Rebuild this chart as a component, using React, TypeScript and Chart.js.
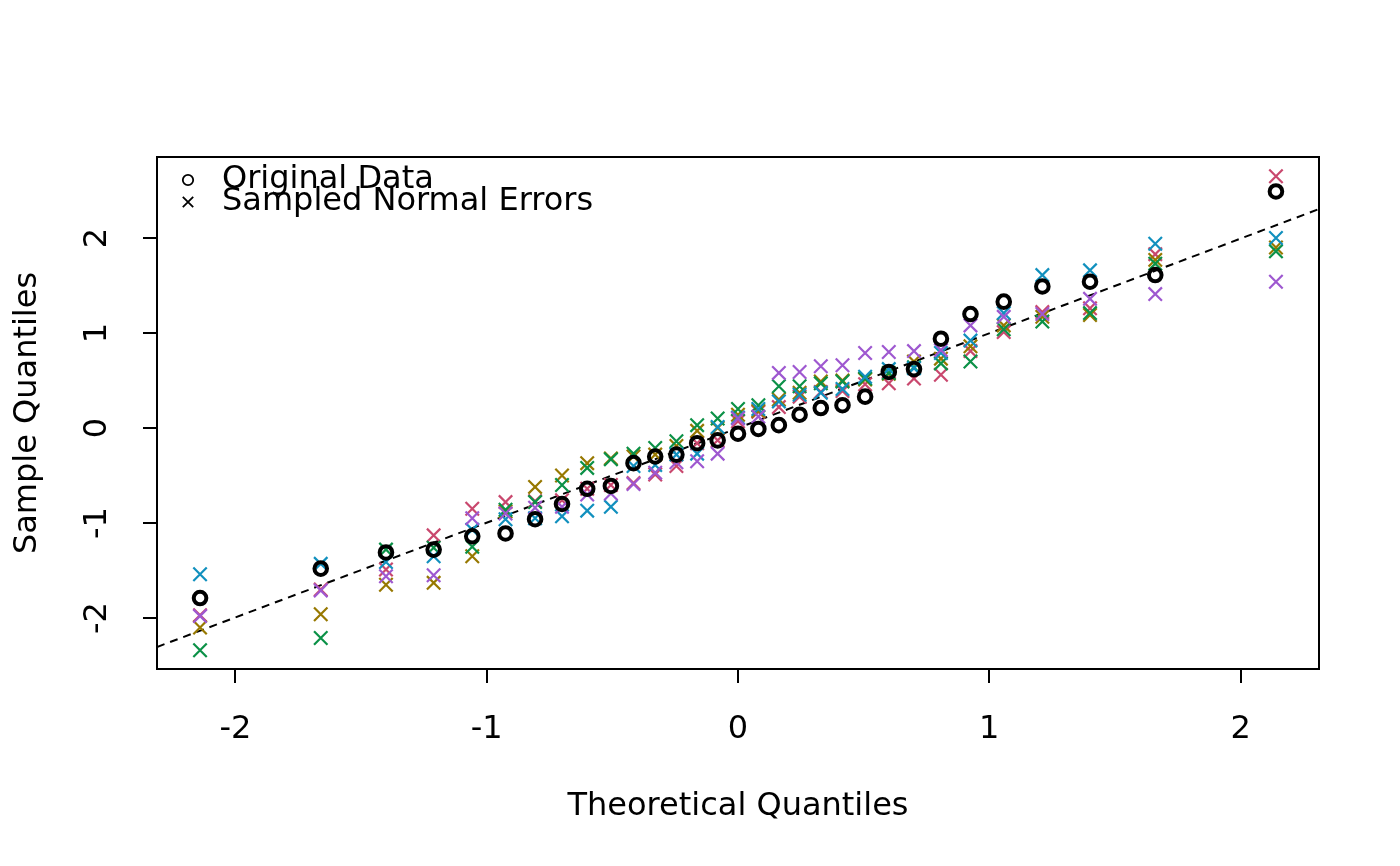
import React, { useEffect, useRef } from "react";
import { Chart, registerables } from "chart.js";

Chart.register(...registerables);

// Theoretical normal quantiles for n = 31
const theoreticalQuantiles = [
  -2.1407, -1.6604, -1.4008, -1.2111, -1.0575, -0.9251, -0.8075, -0.7003, -0.6001, -0.5058,
  -0.4158, -0.3295, -0.2451, -0.1626, -0.081, 0, 0.081, 0.1626, 0.2451, 0.3295,
  0.4158, 0.5058, 0.6001, 0.7003, 0.8075, 0.9251, 1.0575, 1.2111, 1.4008, 1.6604, 2.1407,
];

const originalData = [
  -1.79, -1.48, -1.31, -1.28, -1.14, -1.11, -0.96, -0.8, -0.64, -0.61,
  -0.37, -0.3, -0.28, -0.16, -0.13, -0.06, -0.01, 0.03, 0.14, 0.21,
  0.24, 0.33, 0.59, 0.62, 0.94, 1.2, 1.33, 1.49, 1.54, 1.61, 2.49,
];

const sampleRed = [
  -1.97, -1.7, -1.49, -1.13, -0.85, -0.78, -0.77, -0.76, -0.64, -0.6,
  -0.58, -0.49, -0.4, -0.16, -0.13, 0.07, 0.17, 0.22, 0.33, 0.38,
  0.39, 0.46, 0.47, 0.52, 0.56, 0.81, 1.01, 1.22, 1.26, 1.83, 2.65,
];

const sampleOlive = [
  -2.1, -1.96, -1.65, -1.63, -1.35, -0.88, -0.62, -0.5, -0.37, -0.32,
  -0.3, -0.28, -0.19, -0.03, 0.0, 0.14, 0.18, 0.3, 0.37, 0.49,
  0.5, 0.51, 0.57, 0.7, 0.73, 0.86, 1.08, 1.17, 1.19, 1.77, 1.9,
];

const sampleGreen = [
  -2.34, -2.21, -1.28, -1.26, -1.25, -0.86, -0.78, -0.6, -0.42, -0.33,
  -0.27, -0.21, -0.14, 0.03, 0.1, 0.2, 0.24, 0.44, 0.44, 0.47,
  0.49, 0.52, 0.58, 0.64, 0.68, 0.7, 1.04, 1.12, 1.21, 1.73, 1.86,
];

const sampleTeal = [
  -1.54, -1.43, -1.41, -1.35, -1.07, -0.96, -0.95, -0.93, -0.87, -0.83,
  -0.4, -0.39, -0.28, -0.27, 0.01, 0.11, 0.2, 0.28, 0.35, 0.37,
  0.41, 0.54, 0.62, 0.63, 0.79, 0.92, 1.21, 1.61, 1.66, 1.94, 2.0,
];

const samplePurple = [
  -1.98, -1.71, -1.56, -1.55, -0.95, -0.9, -0.84, -0.83, -0.7, -0.69,
  -0.59, -0.47, -0.36, -0.35, -0.27, 0.1, 0.12, 0.58, 0.59, 0.65,
  0.66, 0.79, 0.8, 0.81, 0.82, 1.08, 1.17, 1.2, 1.36, 1.41, 1.54,
];

const qqLineX = [-2.312, 2.312];
const qqLineY = [-2.305, 2.305];

const xTicks = [-2, -1, 0, 1, 2];
const yTicks = [-2, -1, 0, 1, 2];
const xRange = [-2.312, 2.312];
const yRange = [-2.537, 2.853];

const legendLabels = ["Original Data", "Sampled Normal Errors"];
const xTitle = "Theoretical Quantiles";
const yTitle = "Sample Quantiles";

const FONT_FAMILY = "'DejaVu Sans', 'Noto Sans', sans-serif";
const FONT_SIZE = 32;

const toPoints = (ys: number[]) => ys.map((y, i) => ({ x: theoreticalQuantiles[i], y }));

const framePlugin = {
  id: "rFrame",
  afterDraw(chart: any) {
    const { ctx, chartArea: a } = chart;
    ctx.save();
    ctx.strokeStyle = "#000";
    ctx.lineWidth = 2;
    ctx.strokeRect(a.left, a.top, a.right - a.left, a.bottom - a.top);

    // legend (R style, inside top-left)
    const sx = a.left + 31;
    const y1 = a.top + 23;
    const y2 = a.top + 45;
    ctx.lineWidth = 1.8;
    ctx.beginPath();
    ctx.arc(sx, y1, 5.2, 0, Math.PI * 2);
    ctx.stroke();
    const h = 5.2;
    ctx.beginPath();
    ctx.moveTo(sx - h, y2 - h);
    ctx.lineTo(sx + h, y2 + h);
    ctx.moveTo(sx - h, y2 + h);
    ctx.lineTo(sx + h, y2 - h);
    ctx.stroke();
    ctx.fillStyle = "#000";
    ctx.font = `${FONT_SIZE}px ${FONT_FAMILY}`;
    ctx.textAlign = "left";
    ctx.textBaseline = "middle";
    ctx.fillText(legendLabels[0], a.left + 65, y1);
    ctx.fillText(legendLabels[1], a.left + 65, y2);
    ctx.restore();
  },
};

export default function App() {
  const ref = useRef<HTMLCanvasElement | null>(null);

  useEffect(() => {
    if (!ref.current) return;
    const crossDs = (data: number[], color: string) => ({
      type: "scatter" as const,
      data: toPoints(data),
      pointStyle: "crossRot",
      pointRadius: 9.5,
      borderWidth: 2.2,
      borderColor: color,
      backgroundColor: color,
      showLine: false,
    });
    const chart = new Chart(ref.current, {
      type: "scatter",
      data: {
        datasets: [
          {
            type: "scatter",
            data: toPoints(originalData),
            pointStyle: "circle",
            pointRadius: 6.3,
            borderWidth: 4,
            borderColor: "#000",
            backgroundColor: "rgba(0,0,0,0)",
            showLine: false,
          } as any,
          crossDs(samplePurple, "#9E58D0"),
          crossDs(sampleTeal, "#1190BE"),
          crossDs(sampleGreen, "#0B9147"),
          crossDs(sampleOlive, "#977800"),
          crossDs(sampleRed, "#C9486E"),
          {
            type: "scatter",
            data: qqLineX.map((x, i) => ({ x, y: qqLineY[i] })),
            showLine: true,
            pointRadius: 0,
            borderColor: "#000",
            borderWidth: 2,
            borderDash: [8, 6],
            fill: false,
          } as any,
        ],
      },
      options: {
        animation: false,
        responsive: false,
        events: [],
        layout: { padding: { top: 157, right: 81, bottom: 0, left: 0 } },
        plugins: { legend: { display: false }, tooltip: { enabled: false } },
        scales: {
          x: {
            type: "linear",
            min: xRange[0],
            max: xRange[1],
            afterBuildTicks: (s: any) => {
              s.ticks = xTicks.map((v) => ({ value: v }));
            },
            afterFit: (s: any) => {
              s.height = 197;
            },
            grid: {
              drawOnChartArea: false,
              drawTicks: true,
              tickLength: 14,
              color: "#000",
              lineWidth: 2,
            },
            border: { display: false },
            ticks: {
              color: "#000",
              font: { family: FONT_FAMILY, size: FONT_SIZE },
              padding: 27,
              maxRotation: 0,
              autoSkip: false,
              callback: (v: any) => String(v),
            },
            title: {
              display: true,
              text: xTitle,
              color: "#000",
              font: { family: FONT_FAMILY, size: FONT_SIZE },
              padding: { top: 0, bottom: 40 },
            },
          },
          y: {
            type: "linear",
            min: yRange[0],
            max: yRange[1],
            afterBuildTicks: (s: any) => {
              s.ticks = yTicks.map((v) => ({ value: v }));
            },
            afterFit: (s: any) => {
              s.width = 157;
            },
            grid: {
              drawOnChartArea: false,
              drawTicks: true,
              tickLength: 14,
              color: "#000",
              lineWidth: 2,
            },
            border: { display: false },
            ticks: {
              color: "#000",
              font: { family: FONT_FAMILY, size: FONT_SIZE },
              padding: 29,
              minRotation: 90,
              maxRotation: 90,
              crossAlign: "center",
              autoSkip: false,
              callback: (v: any) => String(v),
            },
            title: {
              display: true,
              text: yTitle,
              color: "#000",
              font: { family: FONT_FAMILY, size: FONT_SIZE },
              padding: { top: 8, bottom: 0 },
            },
          },
        },
      } as any,
      plugins: [framePlugin],
    });
    return () => chart.destroy();
  }, []);

  return (
    <div style={{ position: "fixed", left: 0, top: 0, width: 1400, height: 866, background: "#fff" }}>
      <canvas ref={ref} width={1400} height={866} style={{ width: 1400, height: 866, display: "block" }} />
    </div>
  );
}
